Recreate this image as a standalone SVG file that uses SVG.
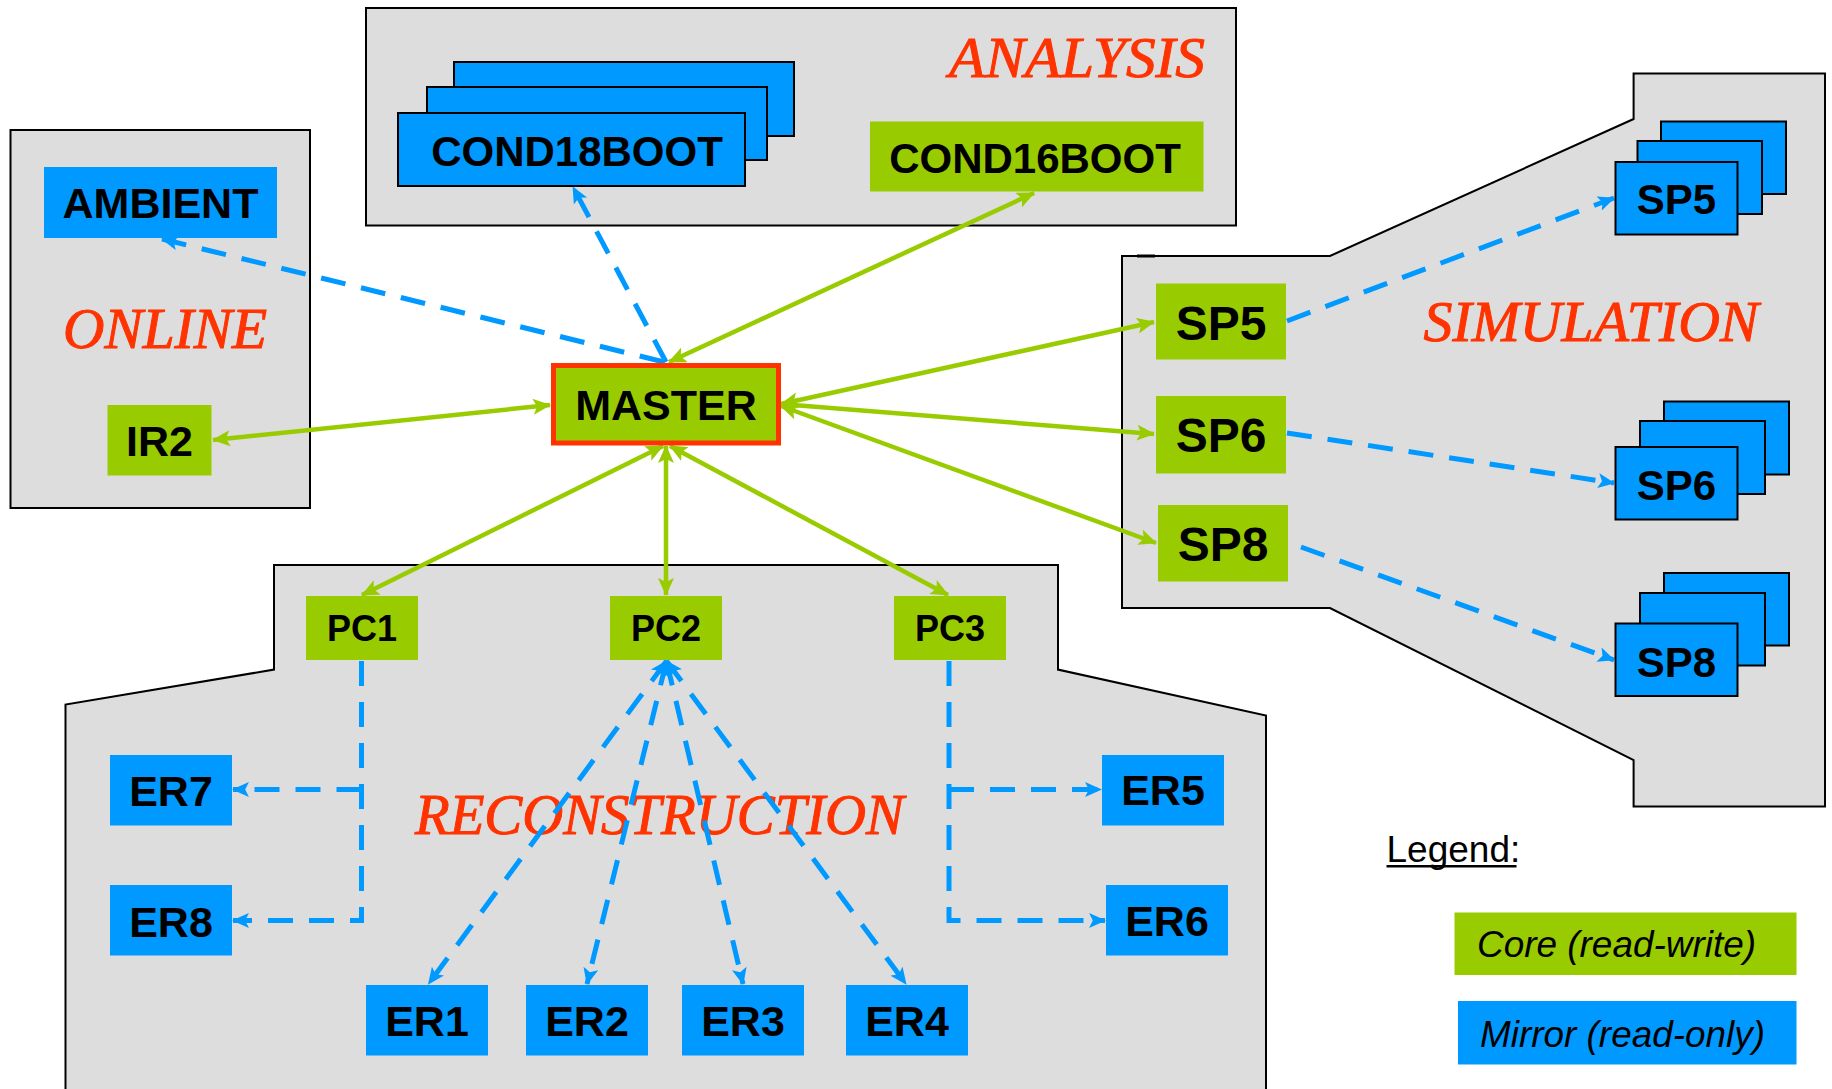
<svg xmlns="http://www.w3.org/2000/svg" width="1832" height="1089" viewBox="0 0 1832 1089">
<style>
.grp{fill:#DDDDDD;stroke:#000;stroke-width:2}
.g{fill:#99CC00}
.b{fill:#0099FF}
.bs{fill:#0099FF;stroke:#000;stroke-width:2}
.lbl{font-family:"Liberation Sans",Arial,sans-serif;font-weight:bold;fill:#000;text-anchor:middle}
.area{font-family:"Liberation Serif","Times New Roman",serif;font-style:italic;font-size:57px;fill:#FF3300;stroke:#FF3300;stroke-width:1}
.leg{font-family:"Liberation Sans",Arial,sans-serif;font-size:37px;fill:#000}
.gl{stroke:#99CC00;stroke-width:4.5;fill:none;marker-start:url(#ga);marker-end:url(#ga)}
.bl{stroke:#0099FF;stroke-width:5;fill:none;stroke-dasharray:25 16;marker-end:url(#ba)}
.bl2{stroke:#0099FF;stroke-width:5;fill:none;stroke-dasharray:25 16;marker-start:url(#ba);marker-end:url(#ba)}
</style>
<defs>
<marker id="ga" viewBox="0 0 18 16" refX="17" refY="8" markerWidth="18" markerHeight="16" markerUnits="userSpaceOnUse" orient="auto-start-reverse">
<path d="M0,0 L18,8 L0,16 L4,8 z" fill="#99CC00"/>
</marker>
<marker id="ba" viewBox="0 0 18 16" refX="17" refY="8" markerWidth="17" markerHeight="15" markerUnits="userSpaceOnUse" orient="auto-start-reverse">
<path d="M0,0 L18,8 L0,16 L4,8 z" fill="#0099FF"/>
</marker>
</defs>

<!-- group areas -->
<g id="area-online">
<rect class="grp" x="10.5" y="130" width="299.5" height="378"/>
<text class="area" x="165" y="348" text-anchor="middle" textLength="204" lengthAdjust="spacingAndGlyphs">ONLINE</text>
</g>
<g id="area-analysis">
<rect class="grp" x="366" y="8" width="870" height="217.5"/>
<text class="area" x="1205" y="77" text-anchor="end" textLength="256" lengthAdjust="spacingAndGlyphs">ANALYSIS</text>
</g>
<g id="area-simulation">
<polygon class="grp" points="1122,256 1330,256 1633.6,119 1633.6,73.6 1825,73.6 1825,806.5 1633.6,806.5 1633.6,760 1330,608 1122,608"/>
<rect x="1137" y="254.5" width="18" height="3" fill="#000"/>
<text class="area" x="1423.5" y="341" textLength="335" lengthAdjust="spacingAndGlyphs">SIMULATION</text>
</g>
<g id="area-reconstruction">
<polygon class="grp" points="274,565 1058,565 1058,669.6 1266,715.5 1266,1095 65.5,1095 65.5,704.5 274,669.6"/>
<text class="area" x="415" y="833.5" textLength="489" lengthAdjust="spacingAndGlyphs">RECONSTRUCTION</text>
</g>

<!-- connectors -->
<g id="connectors">
<line class="gl" x1="213" y1="440" x2="550" y2="405"/>
<line class="gl" x1="669" y1="362" x2="1034" y2="193"/>
<line class="gl" x1="781" y1="404" x2="1154" y2="322"/>
<line class="gl" x1="781" y1="404" x2="1154" y2="434"/>
<line class="gl" x1="781" y1="406" x2="1156" y2="543"/>
<line class="gl" x1="663" y1="446" x2="362" y2="595"/>
<line class="gl" x1="666" y1="446" x2="666" y2="595"/>
<line class="gl" x1="670" y1="446" x2="948" y2="595"/>

<line class="bl" x1="664" y1="362" x2="162" y2="239"/>
<line class="bl" x1="666" y1="362" x2="573" y2="187"/>
<line class="bl" x1="1287" y1="321" x2="1614" y2="198"/>
<line class="bl" x1="1287" y1="433" x2="1614" y2="483"/>
<line class="bl" x1="1301" y1="547" x2="1614" y2="660"/>

<path class="bl" d="M361.5,661 V920.5 H233"/>
<path class="bl" d="M361.5,789.5 H233"/>
<path class="bl" d="M949,661 V920.5 H1105"/>
<path class="bl" d="M949,789.5 H1101"/>

<line class="bl2" x1="666.5" y1="661" x2="428.5" y2="984"/>
<line class="bl2" x1="666.5" y1="661" x2="587" y2="984"/>
<line class="bl2" x1="666.5" y1="661" x2="743" y2="984"/>
<line class="bl2" x1="666.5" y1="661" x2="906" y2="984"/>
</g>

<!-- nodes -->
<g id="node-ambient">
<rect class="b" x="44" y="167" width="233" height="71"/>
<text class="lbl" x="160.5" y="218" font-size="43">AMBIENT</text>
</g>
<g id="node-ir2">
<rect class="g" x="107.5" y="405" width="104" height="70.5"/>
<text class="lbl" x="159.5" y="456" font-size="43">IR2</text>
</g>
<g id="node-cond18boot">
<rect class="bs" x="454" y="62" width="340" height="74"/>
<rect class="bs" x="427" y="87" width="340" height="73"/>
<rect class="bs" x="398" y="113" width="347" height="73"/>
<text class="lbl" x="577" y="166" font-size="42">COND18BOOT</text>
</g>
<g id="node-cond16boot">
<rect class="g" x="870" y="121.5" width="333.5" height="70"/>
<text class="lbl" x="1035" y="173" font-size="42">COND16BOOT</text>
</g>
<g id="node-master">
<rect class="g" x="553.5" y="365.5" width="225" height="77.5" stroke="#FF3300" stroke-width="5"/>
<text class="lbl" x="666" y="420" font-size="43">MASTER</text>
</g>
<g id="node-sp5">
<rect class="g" x="1156" y="283.5" width="130" height="76"/>
<text class="lbl" x="1221" y="339.5" font-size="48">SP5</text>
</g>
<g id="node-sp6">
<rect class="g" x="1156" y="396" width="130" height="77.5"/>
<text class="lbl" x="1221" y="451.5" font-size="48">SP6</text>
</g>
<g id="node-sp8">
<rect class="g" x="1158" y="505" width="130" height="76.5"/>
<text class="lbl" x="1223" y="560.5" font-size="48">SP8</text>
</g>
<g id="node-sp5-mirror">
<rect class="bs" x="1661" y="121.5" width="125" height="72.5"/>
<rect class="bs" x="1637.5" y="141" width="124.5" height="73"/>
<rect class="bs" x="1615.5" y="162" width="122" height="72.5"/>
<text class="lbl" x="1676.5" y="214" font-size="42">SP5</text>
</g>
<g id="node-sp6-mirror">
<rect class="bs" x="1664" y="401.5" width="125" height="73"/>
<rect class="bs" x="1640" y="421" width="125" height="73"/>
<rect class="bs" x="1615.5" y="447" width="122" height="72.5"/>
<text class="lbl" x="1676.5" y="499.5" font-size="42">SP6</text>
</g>
<g id="node-sp8-mirror">
<rect class="bs" x="1664" y="573" width="125" height="72.5"/>
<rect class="bs" x="1640" y="593" width="125" height="72.5"/>
<rect class="bs" x="1615.5" y="623.5" width="122" height="72.5"/>
<text class="lbl" x="1676.5" y="676.5" font-size="42">SP8</text>
</g>
<g id="node-pc1">
<rect class="g" x="306" y="596" width="112" height="64"/>
<text class="lbl" x="362" y="641" font-size="36">PC1</text>
</g>
<g id="node-pc2">
<rect class="g" x="610" y="596" width="112" height="64"/>
<text class="lbl" x="666" y="641" font-size="36">PC2</text>
</g>
<g id="node-pc3">
<rect class="g" x="894" y="596" width="112" height="64"/>
<text class="lbl" x="950" y="641" font-size="36">PC3</text>
</g>
<g id="node-er7">
<rect class="b" x="110" y="755" width="122" height="70.5"/>
<text class="lbl" x="171" y="806" font-size="43">ER7</text>
</g>
<g id="node-er8">
<rect class="b" x="110" y="885" width="122" height="70.5"/>
<text class="lbl" x="171" y="936.5" font-size="43">ER8</text>
</g>
<g id="node-er1">
<rect class="b" x="366" y="985" width="122" height="70.5"/>
<text class="lbl" x="427" y="1035.5" font-size="43">ER1</text>
</g>
<g id="node-er2">
<rect class="b" x="526" y="985" width="122" height="70.5"/>
<text class="lbl" x="587" y="1035.5" font-size="43">ER2</text>
</g>
<g id="node-er3">
<rect class="b" x="682" y="985" width="122" height="70.5"/>
<text class="lbl" x="743" y="1035.5" font-size="43">ER3</text>
</g>
<g id="node-er4">
<rect class="b" x="846" y="985" width="122" height="70.5"/>
<text class="lbl" x="907" y="1035.5" font-size="43">ER4</text>
</g>
<g id="node-er5">
<rect class="b" x="1102" y="755" width="122" height="70.5"/>
<text class="lbl" x="1163" y="805" font-size="43">ER5</text>
</g>
<g id="node-er6">
<rect class="b" x="1106" y="885" width="122" height="70.5"/>
<text class="lbl" x="1167" y="935.5" font-size="43">ER6</text>
</g>

<!-- legend -->
<g id="legend">
<text class="leg" x="1386.5" y="861.5">Legend:</text>
<rect x="1386.5" y="865" width="130" height="2.5" fill="#000"/>
<rect class="g" x="1454.5" y="912.5" width="342" height="62.5"/>
<text class="leg" x="1477" y="957" font-style="italic" textLength="279" lengthAdjust="spacingAndGlyphs">Core (read-write)</text>
<rect class="b" x="1458" y="1001" width="338.5" height="63.5"/>
<text class="leg" x="1480" y="1046.5" font-style="italic" textLength="285" lengthAdjust="spacingAndGlyphs">Mirror (read-only)</text>
</g>
</svg>
